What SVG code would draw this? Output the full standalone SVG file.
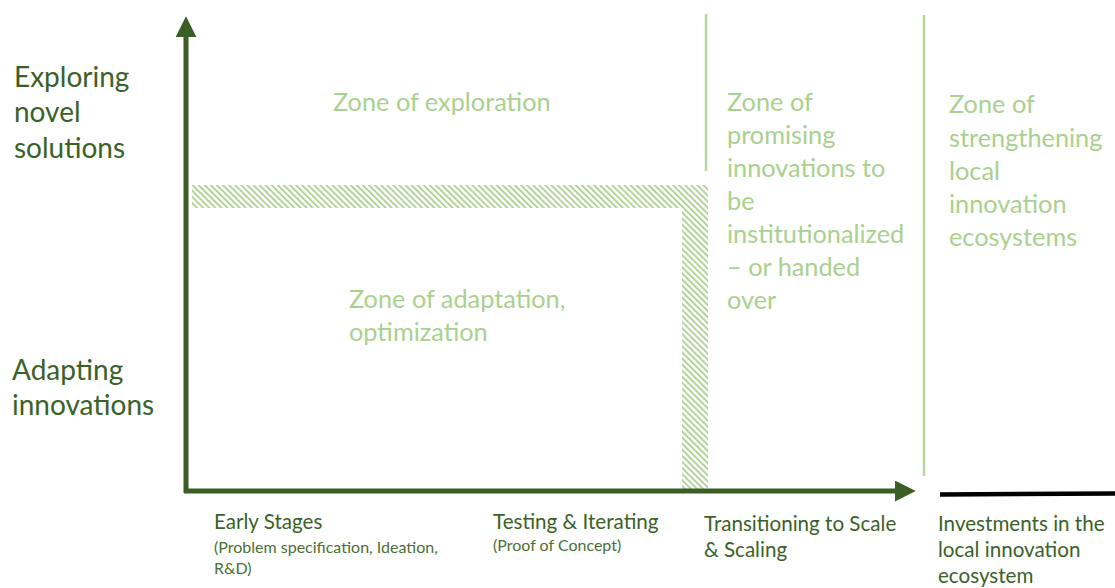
<svg xmlns="http://www.w3.org/2000/svg" width="1115" height="588" viewBox="0 0 1115 588">
  <style>
    text { font-family: Lato, "Open Sans", "Liberation Sans", sans-serif; }
    .axis-label { fill: #3b6128; font-size: 28px; }
    .zone { fill: #a9d18e; font-size: 25.3px; }
    .stage { fill: #3b6128; font-size: 20.6px; }
    .stage-sub { fill: #4a7034; font-size: 16px; }
    .axis { stroke: #3a5e26; stroke-width: 5; fill: none; }
    .divider { stroke: #b5d89e; stroke-width: 2.5; }
  </style>
  <defs>
    <pattern id="hatch" width="4.3" height="10" patternUnits="userSpaceOnUse" patternTransform="rotate(-45)">
      <line x1="1" y1="0" x2="1" y2="10" stroke="#a9d18e" stroke-width="1.8"/>
    </pattern>
    <marker id="arrowhead" viewBox="0 0 10 10" refX="2" refY="5" markerWidth="4.2" markerHeight="4.2" orient="auto" markerUnits="strokeWidth">
      <path d="M0,0 L10,5 L0,10 Z" fill="#3a5e26"/>
    </marker>
  </defs>

  <!-- hatched boundary between exploration and adaptation -->
  <g id="boundary">
    <rect x="192" y="185" width="516" height="23" fill="url(#hatch)"/>
    <rect x="682" y="208" width="26" height="282" fill="url(#hatch)"/>
  </g>

  <!-- axes and dividers -->
  <g id="connectors">
    <line class="axis" x1="186" y1="493" x2="186" y2="33" marker-end="url(#arrowhead)"/>
    <line class="axis" x1="184" y1="491" x2="899" y2="491" marker-end="url(#arrowhead)"/>
    <line x1="940" y1="494.5" x2="1115" y2="493.5" stroke="#000" stroke-width="4.5"/>
    <line class="divider" x1="706" y1="14" x2="706" y2="171"/>
    <line class="divider" x1="924" y1="15" x2="924" y2="476"/>
  </g>

  <g id="y-top">
    <text class="axis-label" x="14" y="87">Exploring</text>
    <text class="axis-label" x="14" y="122">novel</text>
    <text class="axis-label" x="14" y="158">solutions</text>
  </g>
  <g id="y-bottom">
    <text class="axis-label" x="12" y="380">Adapting</text>
    <text class="axis-label" x="12" y="415">innovations</text>
  </g>

  <g id="zone-exploration">
    <text class="zone" x="333" y="111">Zone of exploration</text>
  </g>
  <g id="zone-adaptation">
    <text class="zone" x="349" y="308">Zone of adaptation,</text>
    <text class="zone" x="349" y="341">optimization</text>
  </g>
  <g id="zone-promising">
    <text class="zone" x="727" y="111">Zone of</text>
    <text class="zone" x="727" y="144">promising</text>
    <text class="zone" x="727" y="177">innovations to</text>
    <text class="zone" x="727" y="210">be</text>
    <text class="zone" x="727" y="243">institutionalized</text>
    <text class="zone" x="727" y="276">– or handed</text>
    <text class="zone" x="727" y="309">over</text>
  </g>
  <g id="zone-ecosystems">
    <text class="zone" x="949" y="113">Zone of</text>
    <text class="zone" x="949" y="147">strengthening</text>
    <text class="zone" x="949" y="180">local</text>
    <text class="zone" x="949" y="213">innovation</text>
    <text class="zone" x="949" y="246">ecosystems</text>
  </g>

  <g id="stage-early">
    <text class="stage" x="214" y="529">Early Stages</text>
    <text class="stage-sub" x="214" y="553">(Problem specification, Ideation,</text>
    <text class="stage-sub" x="214" y="574">R&amp;D)</text>
  </g>
  <g id="stage-testing">
    <text class="stage" x="493" y="529">Testing &amp; Iterating</text>
    <text class="stage-sub" x="493" y="551">(Proof of Concept)</text>
  </g>
  <g id="stage-scaling">
    <text class="stage" x="704" y="531">Transitioning to Scale</text>
    <text class="stage" x="704" y="557">&amp; Scaling</text>
  </g>
  <g id="stage-investments">
    <text class="stage" x="938" y="531">Investments in the</text>
    <text class="stage" x="938" y="557">local innovation</text>
    <text class="stage" x="938" y="583">ecosystem</text>
  </g>
</svg>
